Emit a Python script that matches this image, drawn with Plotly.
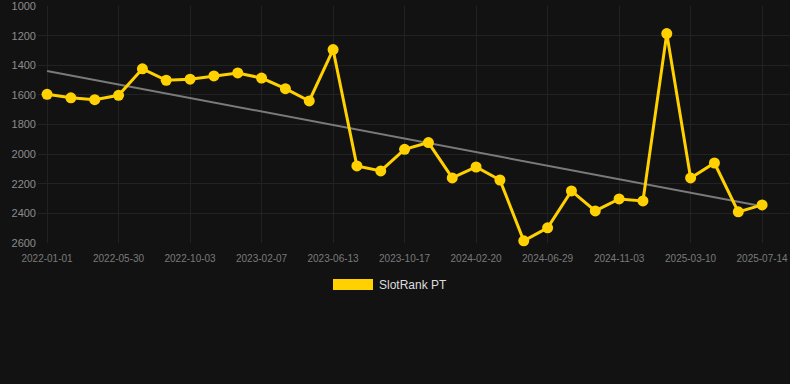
import numpy as np
import plotly.graph_objects as go

dates = [
    "2022-01-01", "2022-02-19", "2022-04-10", "2022-05-30", "2022-07-11", "2022-08-22",
    "2022-10-03", "2022-11-14", "2022-12-27", "2023-02-07", "2023-03-21", "2023-05-02",
    "2023-06-13", "2023-07-25", "2023-09-05", "2023-10-17", "2023-11-28", "2024-01-09",
    "2024-02-20", "2024-04-03", "2024-05-17", "2024-06-29", "2024-08-10", "2024-09-22",
    "2024-11-03", "2024-12-15", "2025-01-27", "2025-03-10", "2025-04-21", "2025-06-02",
    "2025-07-14",
]
rank_pt = [
    1596, 1620, 1632, 1603, 1424, 1501, 1494, 1472, 1452, 1486, 1558,
    1641, 1294, 2080, 2114, 1968, 1922, 2161, 2087, 2175, 2586, 2498,
    2249, 2384, 2303, 2316, 1186, 2161, 2060, 2390, 2343,
]
tick_labels = dates[::3]
y_ticks = [1000, 1200, 1400, 1600, 1800, 2000, 2200, 2400, 2600]
series_name = "SlotRank PT"

idx = np.arange(len(rank_pt))
slope, intercept = np.polyfit(idx, rank_pt, 1)
trend = [float(intercept + slope * i) for i in idx]

YELLOW = "#FFD100"
BG = "#121212"
GRID = "#222222"

fig = go.Figure()
fig.add_trace(go.Scatter(
    x=dates, y=trend, mode="lines",
    line=dict(color="#7a7a7a", width=2),
    showlegend=False, hoverinfo="skip",
))
fig.add_trace(go.Scatter(
    x=dates, y=rank_pt, mode="lines+markers", name=series_name,
    line=dict(color=YELLOW, width=3),
    marker=dict(color=YELLOW, size=11),
    showlegend=False, cliponaxis=False,
))

fig.update_layout(
    width=790, height=384,
    paper_bgcolor=BG, plot_bgcolor=BG,
    margin=dict(l=38, r=0, t=6, b=141),
    font=dict(family="Liberation Sans, Arial, sans-serif", color="#888888"),
    xaxis=dict(
        type="category", categoryorder="array", categoryarray=dates,
        range=[-0.38, 31.17],
        tickvals=tick_labels, ticktext=tick_labels,
        showgrid=True, gridcolor=GRID, gridwidth=1,
        zeroline=False, showline=False, ticks="",
        tickfont=dict(size=10, color="#7a7a7a"),
        ticklabelstandoff=8,
    ),
    yaxis=dict(
        range=[2600.5, 999.5],
        tickvals=y_ticks,
        showgrid=True, gridcolor=GRID, gridwidth=1,
        zeroline=False, showline=False, ticks="",
        tickfont=dict(size=11, color="#8c8c8c"),
        ticklabelstandoff=1,
        ticklabeloverflow="allow",
    ),
    shapes=[dict(
        type="rect", xref="paper", yref="paper",
        x0=(333 - 38) / 752, x1=(373 - 38) / 752,
        y0=(384 - 141 - 290) / 237, y1=(384 - 141 - 279) / 237,
        fillcolor=YELLOW, line=dict(width=0),
    )],
    annotations=[dict(
        text=series_name, xref="paper", yref="paper",
        x=(377 - 38) / 752, y=(384 - 141 - 285) / 237,
        xanchor="left", yanchor="middle", showarrow=False,
        font=dict(size=12, color="#dddddd"),
    )],
)

fig.write_html(
    "out.html",
    config={"displayModeBar": False},
    post_script="document.body.style.margin='0';document.body.style.background='#121212';document.body.style.overflow='hidden';",
)
